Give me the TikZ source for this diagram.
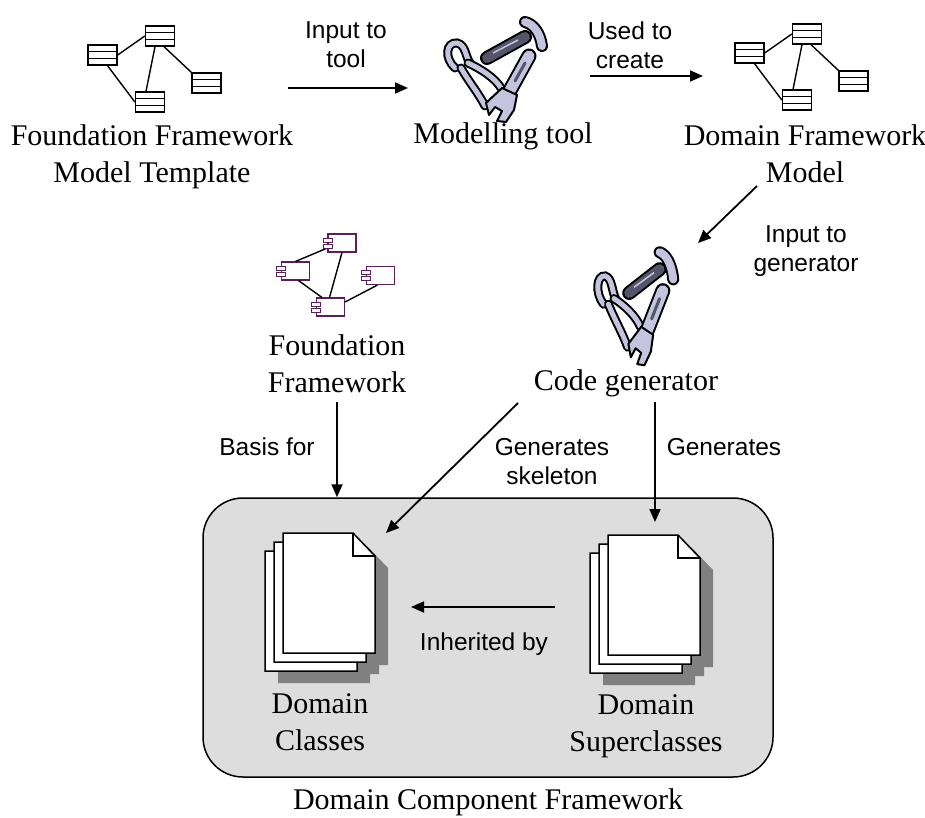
\documentclass[tikz,border=0pt]{standalone}
\usepackage{fontspec}
\setmainfont{Liberation Serif}
\setsansfont{Liberation Sans}
\usetikzlibrary{arrows.meta}
\definecolor{boxgrey}{HTML}{DDDDDD}
\definecolor{shadowgrey}{HTML}{808080}
\definecolor{compline}{HTML}{5A1E5A}
\definecolor{toolfill}{HTML}{C4C4DE}
\definecolor{tooldark}{HTML}{55556A}

% small class diagram: four classes and their associations
\newcommand\modelnet{%
  \node[classbox] (L) at (102.5,55) {};
  \node[classbox] (T) at (160,36) {};
  \node[classbox] (B) at (150,102) {};
  \node[classbox] (R) at (206.5,83) {};
  \draw[assoc] (L.east) -- (T.west);
  \draw[assoc] ([xshift=5pt]L.south) -- (B.west);
  \draw[assoc] ([xshift=-5pt]T.south) -- ([xshift=-4pt]B.north);
  \draw[assoc] ([xshift=4pt]T.south) -- (R.north west);
}

% two tabs of a UML component symbol
\newcommand\comptabs[1]{%
  \draw[comptab] ([xshift=-4pt,yshift=5pt]#1.west) rectangle ++(9,4);
  \draw[comptab] ([xshift=-4pt,yshift=-1pt]#1.west) rectangle ++(9,4);
}

% pliers, hammer and wrench, drawn in a 100 x 100 frame
\newcommand\toolset{%
  % hammer
  \draw[line width=14pt,line cap=round] (44,38) -- (82,17);
  \draw[line width=10pt,line cap=round,tooldark] (44,38) -- (82,17);
  \draw[line width=1.5pt,toolfill] (50,33) -- (75,20);
  \draw[line width=12pt,line cap=round] (82,2) .. controls (90,4) and (97,12) .. (99,26);
  \draw[line width=8pt,line cap=round,toolfill] (82,2) .. controls (90,4) and (97,12) .. (99,26);
  % pliers
  \draw[line width=9pt,line cap=round] (12,48) .. controls (1,38) and (3,22) .. (14,23) .. controls (23,25) and (22,36) .. (27,43);
  \draw[line width=5pt,line cap=round,toolfill] (12,48) .. controls (1,38) and (3,22) .. (14,23) .. controls (23,25) and (22,36) .. (27,43);
  \draw[line width=9pt,line cap=round] (25,43) .. controls (38,49) and (52,58) .. (58,68);
  \draw[line width=5pt,line cap=round,toolfill] (25,43) .. controls (38,49) and (52,58) .. (58,68);
  \draw[line width=9pt,line cap=round] (18,48) .. controls (26,62) and (36,74) .. (42,86);
  \draw[line width=5pt,line cap=round,toolfill] (18,48) .. controls (26,62) and (36,74) .. (42,86);
  % wrench
  \draw[line width=15pt,line cap=round] (86,36) -- (65,74);
  \draw[line width=11pt,line cap=round,toolfill] (86,36) -- (65,74);
  \draw[line width=3pt,line cap=round,tooldark] (82,43) -- (72,61);
  \filldraw[fill=toolfill,line width=2pt,line join=round]
    (59,68) -- (74,75) -- (71,90) -- (63,102) -- (54,101) -- (59,91) -- (52,87) -- (46,95) -- (43,83) -- cycle;
}

% one page with a folded corner
\newcommand\docpage[3]{%
  \filldraw[#3] (#1,#2) -- ++(70,0) -- ++(22,23) -- ++(0,97) -- ++(-92,0) -- cycle;
}
% stack of three pages with a drop shadow
\newcommand\docstack[2]{%
  \begin{scope}[shift={(#1,#2)}]
    \docpage{-5}{30}{fill=shadowgrey,draw=none}
    \docpage{4}{21}{fill=shadowgrey,draw=none}
    \docpage{13}{12}{fill=shadowgrey,draw=none}
    \docpage{-18}{18}{page}
    \docpage{-9}{9}{page}
    \docpage{0}{0}{page}
    \draw[page,fill=none] (70,0) -- (70,23) -- (92,23);
  \end{scope}
}

\begin{document}
\begin{tikzpicture}[x=1pt,y=-1pt,
  ttl/.style={font=\fontsize{30}{37}\selectfont,align=center,inner sep=0pt},
  lbl/.style={font=\sffamily\fontsize{24.5}{29}\selectfont,align=center,inner sep=0pt},
  arr/.style={line width=1.8pt,-{Triangle[length=13pt,width=11pt]}},
  assoc/.style={line width=1.4pt},
  classbox/.style={draw,line width=1.3pt,fill=white,minimum width=29pt,minimum height=20pt,inner sep=0pt,
    path picture={\draw[line width=1.3pt]
      ([yshift=3.3pt]path picture bounding box.west) -- ([yshift=3.3pt]path picture bounding box.east)
      ([yshift=-3.3pt]path picture bounding box.west) -- ([yshift=-3.3pt]path picture bounding box.east);}},
  comp/.style={draw=compline,line width=1.1pt,fill=white,minimum width=28pt,minimum height=18pt,inner sep=0pt},
  comptab/.style={draw=compline,line width=1pt,fill=white},
  page/.style={draw=black,fill=white,line width=1.5pt,line join=miter},
  frame/.style={draw=black,fill=boxgrey,line width=1.5pt,rounded corners=40pt}]

\useasboundingbox (0,0) rectangle (925,818);

% ---------- top row ----------
\begin{scope}[name prefix=fm-]\modelnet\end{scope}
\begin{scope}[shift={(647,-2)},name prefix=dm-]\modelnet\end{scope}
\begin{scope}[shift={(443,20)}]\toolset\end{scope}

\node[ttl] (fmt) at (152,157) {Foundation Framework\\Model Template};
\node[ttl] (mt) at (503,136) {Modelling tool};
\node[ttl] (dfm) at (805,154) {Domain Framework\\Model};

\coordinate (a1s) at (288,88);
\coordinate (a1e) at (408,88);
\draw[arr] (a1s) -- (a1e);
\node[lbl] (l1) at (346,45) {Input to\\tool};

\coordinate (a2s) at (590,76);
\coordinate (a2e) at (703,76);
\draw[arr] (a2s) -- (a2e);
\node[lbl] (l2) at (630,45) {Used to\\create};

\coordinate (a3s) at (757,186);
\coordinate (a3e) at (698,243);
\draw[arr] (a3s) -- (a3e);
\node[lbl] (l3) at (806,251) {Input to\\generator};

% ---------- middle row ----------
\node[comp] (ca) at (342,243) {};
\node[comp] (cb) at (295.5,271) {};
\node[comp] (cc) at (330.5,307) {};
\node[comp] (cd) at (380.5,275.5) {};
\draw[assoc] ([yshift=-5pt]ca.west) -- (cb.north);
\draw[assoc] (ca.south) -- ([xshift=-1pt]cc.north);
\draw[assoc] ([xshift=3pt]cb.south) -- ([xshift=6pt]cc.north west);
\draw[assoc] ([yshift=5pt]cc.east) -- ([xshift=-3pt]cd.south);
\comptabs{ca}\comptabs{cb}\comptabs{cc}\comptabs{cd}

\begin{scope}[shift={(594,250)},xscale=0.8,yscale=1.13]\toolset\end{scope}

\node[ttl] (ff) at (337,364) {Foundation\\Framework};
\node[ttl] (cg) at (626,383) {Code generator};

% ---------- component framework ----------
\node[frame,minimum width=570pt,minimum height=279pt] (dcf) at (488,637.5) {};
\node[ttl] (dcft) at (488,802) {Domain Component Framework};

\docstack{283}{533}
\docstack{608}{535}

\node[ttl] (dc) at (320,722) {Domain\\Classes};
\node[ttl] (ds) at (646,726) {Domain\\Superclasses};

\coordinate (b1s) at (337,402);
\draw[arr] (b1s) -- (b1s |- dcf.north);
\node[lbl] (l4) at (267,447) {Basis for};

\coordinate (b2s) at (518,403);
\coordinate (b2e) at (386,533);
\draw[arr] (b2s) -- (b2e);
\node[lbl] (l5) at (552,462) {Generates\\skeleton};

\coordinate (b3s) at (655,402);
\coordinate (b3e) at (655,522);
\draw[arr] (b3s) -- (b3e);
\node[lbl] (l6) at (724,447) {Generates};

\coordinate (b4s) at (555,607);
\coordinate (b4e) at (411,607);
\draw[arr] (b4s) -- (b4e);
\node[lbl] (l7) at (484,644) {Inherited by};

\end{tikzpicture}
\end{document}
